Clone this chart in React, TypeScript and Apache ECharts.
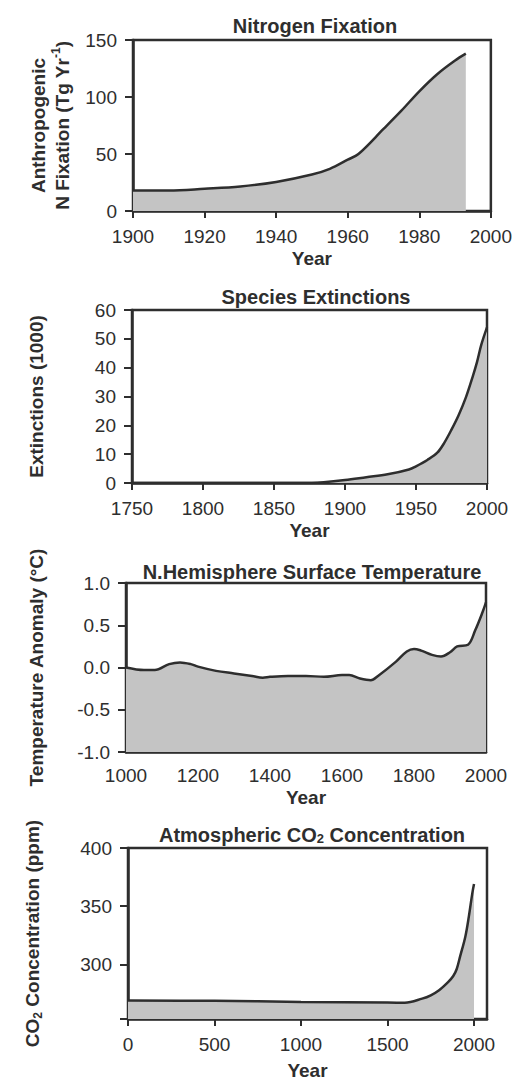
import React, { useEffect, useRef } from "react";
import * as echarts from "echarts";

// Panel 1: Nitrogen fixation (Tg/yr)
const nYears = [1900, 1910, 1920, 1930, 1940, 1950, 1955, 1960, 1963, 1970, 1975, 1980, 1985, 1990, 1993];
const nValues = [18, 18, 19.5, 21.5, 25.5, 32, 37, 45, 50, 72, 88, 105, 120, 132, 138];
const nXTicks = [1900, 1920, 1940, 1960, 1980, 2000];
const nYTicks = [0, 50, 100, 150];

// Panel 2: Species extinctions (1000)
const eYears = [1750, 1800, 1850, 1870, 1885, 1900, 1915, 1930, 1945, 1950, 1958, 1965, 1970, 1975, 1980, 1985, 1990, 1993, 1996, 2000];
const eValues = [0, 0, 0, 0, 0.3, 1, 2, 3, 4.7, 5.8, 8, 10.5, 14, 18.5, 23.5, 29.5, 37, 42, 48, 54];
const eXTicks = [1750, 1800, 1850, 1900, 1950, 2000];
const eYTicks = [0, 10, 20, 30, 40, 50, 60];

// Panel 3: N. Hemisphere temperature anomaly (°C)
const tYears = [1000, 1050, 1080, 1120, 1150, 1180, 1200, 1250, 1300, 1350, 1380, 1400, 1450, 1500, 1550, 1600, 1620, 1650, 1680, 1700, 1750, 1780, 1800, 1820, 1850, 1875, 1900, 1920, 1950, 1970, 1990, 2000];
const tValues = [0.0, -0.03, -0.03, 0.04, 0.06, 0.04, 0.01, -0.04, -0.07, -0.1, -0.12, -0.11, -0.1, -0.1, -0.11, -0.09, -0.09, -0.13, -0.15, -0.1, 0.07, 0.19, 0.22, 0.2, 0.15, 0.13, 0.18, 0.25, 0.27, 0.44, 0.65, 0.77];
const tXTicks = [1000, 1200, 1400, 1600, 1800, 2000];
const tYTicks = [-1.0, -0.5, 0.0, 0.5, 1.0];

// Panel 4: Atmospheric CO2 (ppm)
const cYears = [0, 500, 1000, 1500, 1600, 1700, 1750, 1800, 1850, 1880, 1900, 1920, 1950, 1970, 1990, 2000];
const cValues = [269, 268.6, 267.7, 267.1, 267, 270.5, 273.4, 278, 284.7, 290, 296, 307, 324, 341, 361, 369];
const cXTicks = [0, 500, 1000, 1500, 2000];
const cYTicks = [300, 350, 400];

const FONT = "Liberation Sans, Arial, Helvetica, sans-serif";
const INK = "#2e2e2e";
const FILL = "#c4c4c4";

function pairs(xs: number[], ys: number[]) {
  return xs.map((x, i) => [x, ys[i]]);
}

export default function App() {
  const ref = useRef<HTMLDivElement>(null);
  useEffect(() => {
    if (!ref.current) return;
    const chart = echarts.init(ref.current, null, { renderer: "svg" });

    const grids = [
      { left: 133, top: 40, width: 358, height: 171 },
      { left: 132, top: 310, width: 355, height: 173 },
      { left: 126, top: 583, width: 360, height: 169 },
      { left: 128, top: 848, width: 359, height: 171 },
    ].map((g) => ({ ...g, show: true, borderColor: INK, borderWidth: 2.5 }));
    const ranges = [
      { x: [1900, 2000], y: [0, 150] },
      { x: [1750, 2000], y: [0, 60] },
      { x: [1000, 2000], y: [-1, 1] },
      { x: [0, 2075], y: [253, 400] },
    ];

    const tickLabel = { fontSize: 19, color: INK, fontFamily: FONT };
    const nameStyle = {
      fontSize: 19,
      fontWeight: "bold" as const,
      color: INK,
      fontFamily: FONT,
    };
    const axisLine = { show: true, onZero: false, lineStyle: { color: INK, width: 2.5 } };

    const xAxisBase = (i: number, ticks: number[], inside: boolean, gap: number) => ({
      type: "value",
      gridIndex: i,
      min: ranges[i].x[0],
      max: ranges[i].x[1],
      name: "Year",
      nameLocation: "middle",
      nameGap: gap,
      nameTextStyle: nameStyle,
      axisLine,
      splitLine: { show: false },
      axisTick: { show: true, inside, length: inside ? 5 : 7, customValues: ticks, lineStyle: { color: INK, width: 2 } },
      axisLabel: { ...tickLabel, margin: inside ? 14 : 16, customValues: ticks, formatter: (v: number) => String(v) },
    });

    const yAxisBase = (i: number, ticks: number[], labels: number[], name: string, gap: number, rich: any, fmt?: (v: number) => string) => ({
      type: "value",
      gridIndex: i,
      min: ranges[i].y[0],
      max: ranges[i].y[1],
      name,
      nameLocation: "middle",
      nameGap: gap,
      nameRotate: 90,
      nameTextStyle: { ...nameStyle, rich, lineHeight: 24 },
      axisLine,
      splitLine: { show: false },
      axisTick: { show: true, inside: false, length: 8, customValues: ticks, lineStyle: { color: INK, width: 2 } },
      axisLabel: { ...tickLabel, margin: 16, customValues: labels, formatter: fmt || ((v: number) => String(v)) },
    });

    const supRich = {
      sup: { fontSize: 12, fontWeight: "bold", color: INK, fontFamily: FONT, verticalAlign: "top", padding: [0, 0, 8, 0] },
    };
    const subRich = {
      sub: { fontSize: 12, fontWeight: "bold", color: INK, fontFamily: FONT, verticalAlign: "bottom", padding: [8, 0, 0, 0] },
    };

    const series = (i: number, xs: number[], ys: number[]) => ({
      type: "line",
      xAxisIndex: i,
      yAxisIndex: i,
      data: pairs(xs, ys),
      smooth: 0.35,
      symbol: "none",
      lineStyle: { color: INK, width: 2.5 },
      areaStyle: { color: FILL, opacity: 1, origin: "start" },
      z: 1,
    });

    const titleStyle = { fontSize: 20, fontWeight: "bold" as const, color: INK, fontFamily: FONT };

    chart.setOption({
      animation: false,
      title: [
        { text: "Nitrogen Fixation", left: 310, top: 11, textAlign: "center", textStyle: titleStyle },
        { text: "Species Extinctions", left: 311, top: 282, textAlign: "center", textStyle: titleStyle },
        { text: "N.Hemisphere Surface Temperature", left: 307, top: 557, textAlign: "center", textStyle: titleStyle },
        {
          text: "Atmospheric CO{sub|2} Concentration",
          left: 307,
          top: 819,
          textAlign: "center",
          textStyle: { ...titleStyle, rich: { sub: { ...titleStyle, fontSize: 13, verticalAlign: "bottom", padding: [8, 0, 0, 0] } } },
        },
      ],
      grid: grids,
      xAxis: [
        xAxisBase(0, nXTicks, false, 38),
        xAxisBase(1, eXTicks, false, 38),
        xAxisBase(2, tXTicks, true, 36),
        xAxisBase(3, cXTicks, false, 42),
      ],
      yAxis: [
        yAxisBase(0, nYTicks, nYTicks, "Anthropogenic\nN Fixation (Tg Yr{sup|-1})", 58, supRich),
        yAxisBase(1, eYTicks, eYTicks, "Extinctions (1000)", 84, {}),
        yAxisBase(2, tYTicks, tYTicks, "Temperature Anomaly (°C)", 78, {}, (v: number) => v.toFixed(1)),
        yAxisBase(3, [253, 300, 350, 400], cYTicks, "CO{sub|2} Concentration (ppm)", 84, subRich),
      ],
      series: [
        series(0, nYears, nValues),
        series(1, eYears, eValues),
        series(2, tYears, tValues),
        series(3, cYears, cValues),
      ],
    });
    return () => chart.dispose();
  }, []);
  return (
    <div
      ref={ref}
      style={{ position: "fixed", left: 0, top: 0, width: 515, height: 1081, background: "#fff" }}
    />
  );
}
